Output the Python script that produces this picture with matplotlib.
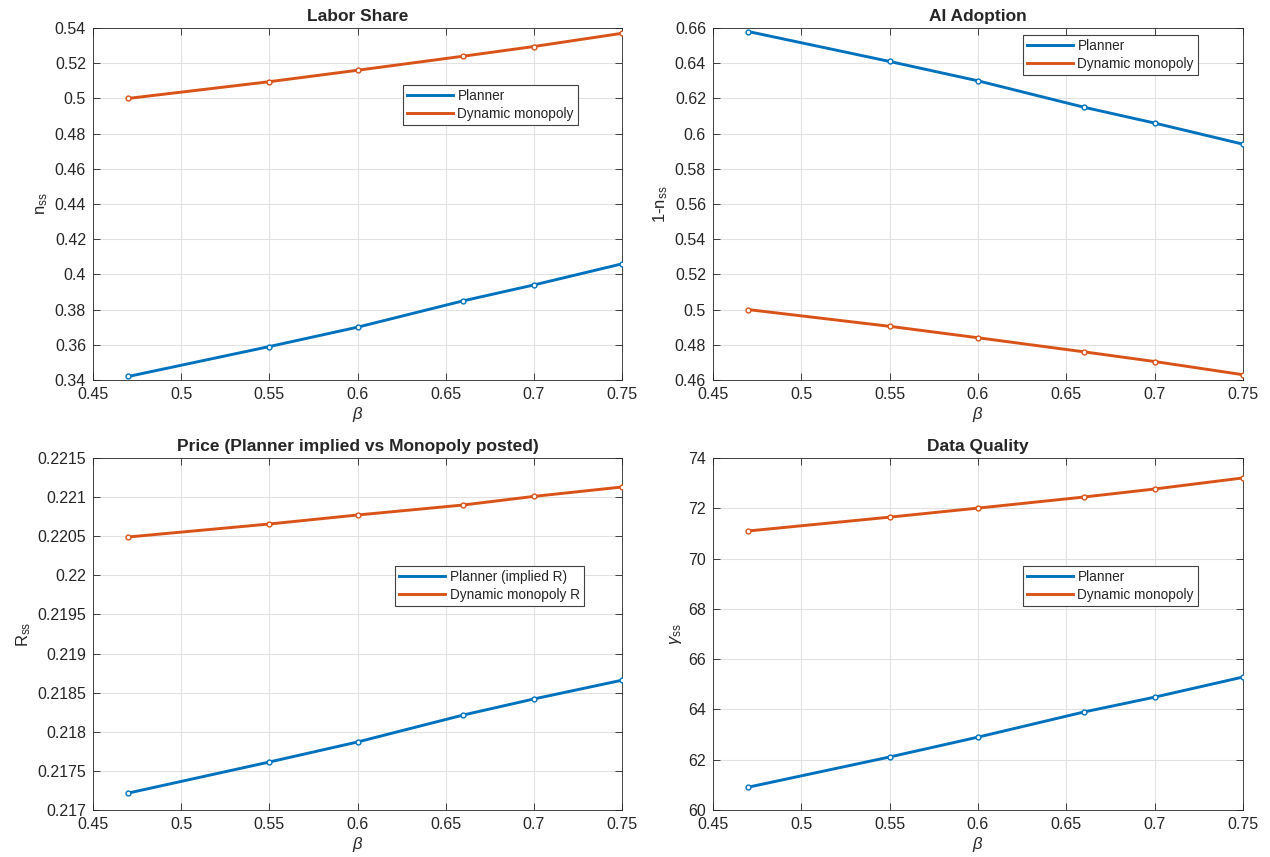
import matplotlib
matplotlib.use("Agg")
import matplotlib.pyplot as plt
from matplotlib.ticker import FixedLocator, FuncFormatter

plt.rcParams['font.family'] = ['Liberation Sans', 'DejaVu Sans']
plt.rcParams['mathtext.fontset'] = 'custom'
plt.rcParams['mathtext.rm'] = 'Liberation Sans'
plt.rcParams['mathtext.it'] = 'Liberation Sans:italic'

beta = [0.47, 0.55, 0.60, 0.66, 0.70, 0.75]

labor_planner = [0.342, 0.359, 0.370, 0.385, 0.394, 0.406]
labor_monopoly = [0.500, 0.5095, 0.516, 0.524, 0.5295, 0.537]

ai_planner = [0.658, 0.641, 0.630, 0.615, 0.606, 0.594]
ai_monopoly = [0.500, 0.4905, 0.484, 0.476, 0.4705, 0.463]

price_planner = [0.217217, 0.217614, 0.21787, 0.218215, 0.21842, 0.21866]
price_monopoly = [0.220491, 0.220657, 0.220772, 0.22090, 0.22101, 0.22113]

quality_planner = [60.91, 62.11, 62.90, 63.90, 64.49, 65.29]
quality_monopoly = [71.10, 71.65, 72.01, 72.45, 72.77, 73.21]

xticks = [0.45, 0.5, 0.55, 0.6, 0.65, 0.7, 0.75]

BLUE = '#0072BD'
ORANGE = '#D95319'
AX_COLOR = '#262626'


def fmt(v, pos):
    s = f"{v:.6f}".rstrip('0').rstrip('.')
    return s


panels = [
    dict(title='Labor Share', ylabel=r'n$_{\mathrm{ss}}$',
         p=labor_planner, m=labor_monopoly, ylim=(0.34, 0.54),
         yticks=[0.34 + 0.02 * i for i in range(11)],
         labels=('Planner', 'Dynamic monopoly'), leg=(0.586, 0.838),
         rect=[0.0732, 0.5566, 0.4166, 0.4107]),
    dict(title='AI Adoption', ylabel=r'1-n$_{\mathrm{ss}}$',
         p=ai_planner, m=ai_monopoly, ylim=(0.46, 0.66),
         yticks=[0.46 + 0.02 * i for i in range(11)],
         labels=('Planner', 'Dynamic monopoly'), leg=(0.585, 0.98),
         rect=[0.5614, 0.5566, 0.4173, 0.4107]),
    dict(title='Price (Planner implied vs Monopoly posted)', ylabel=r'R$_{\mathrm{ss}}$',
         p=price_planner, m=price_monopoly, ylim=(0.217, 0.2215),
         yticks=[0.217 + 0.0005 * i for i in range(10)],
         labels=('Planner (implied R)', 'Dynamic monopoly R'), leg=(0.571, 0.693),
         rect=[0.0732, 0.0548, 0.4166, 0.4107]),
    dict(title='Data Quality', ylabel=r'$\gamma_{\mathrm{ss}}$',
         p=quality_planner, m=quality_monopoly, ylim=(60, 74),
         yticks=list(range(60, 75, 2)),
         labels=('Planner', 'Dynamic monopoly'), leg=(0.585, 0.693),
         rect=[0.5614, 0.0548, 0.4173, 0.4107]),
]

fig = plt.figure(figsize=(12.7, 8.57), dpi=100)

for cfg in panels:
    ax = fig.add_axes(cfg['rect'])
    ax.plot(beta, cfg['p'], color=BLUE, lw=2.1, marker='o', ms=3.5,
            mfc='white', mew=1.0, label=cfg['labels'][0], zorder=3)
    ax.plot(beta, cfg['m'], color=ORANGE, lw=2.1, marker='o', ms=3.5,
            mfc='white', mew=1.0, label=cfg['labels'][1], zorder=3)
    ax.set_xlim(0.45, 0.75)
    ax.set_ylim(*cfg['ylim'])
    ax.xaxis.set_major_locator(FixedLocator(xticks))
    ax.yaxis.set_major_locator(FixedLocator(cfg['yticks']))
    ax.xaxis.set_major_formatter(FuncFormatter(fmt))
    ax.yaxis.set_major_formatter(FuncFormatter(fmt))
    ax.grid(True, color='#e2e2e2', lw=0.8)
    ax.set_axisbelow(True)
    ax.tick_params(direction='in', top=True, right=True, length=5,
                   width=0.6, colors=AX_COLOR, labelsize=11.5, pad=5)
    for sp in ax.spines.values():
        sp.set_color(AX_COLOR)
        sp.set_linewidth(0.6)
    ax.set_title(cfg['title'], fontsize=12.5, fontweight='bold',
                 color=AX_COLOR, pad=5)
    ax.set_xlabel(r'$\it{\beta}$', fontsize=12, color=AX_COLOR, labelpad=2)
    ax.set_ylabel(cfg['ylabel'], fontsize=12, color=AX_COLOR, labelpad=3)
    leg = ax.legend(loc='upper left', bbox_to_anchor=cfg['leg'], fontsize=9.8,
                    frameon=True, fancybox=False, framealpha=1,
                    edgecolor='#404040', handlelength=3.4, handletextpad=0.3,
                    borderpad=0.3, labelspacing=0.25, borderaxespad=0)
    leg.get_frame().set_linewidth(0.8)
    for line in leg.get_lines():
        line.set_marker('')
        line.set_linewidth(2.1)
    for t in leg.get_texts():
        t.set_color(AX_COLOR)

fig.savefig('out.png', dpi=100, facecolor='white')
